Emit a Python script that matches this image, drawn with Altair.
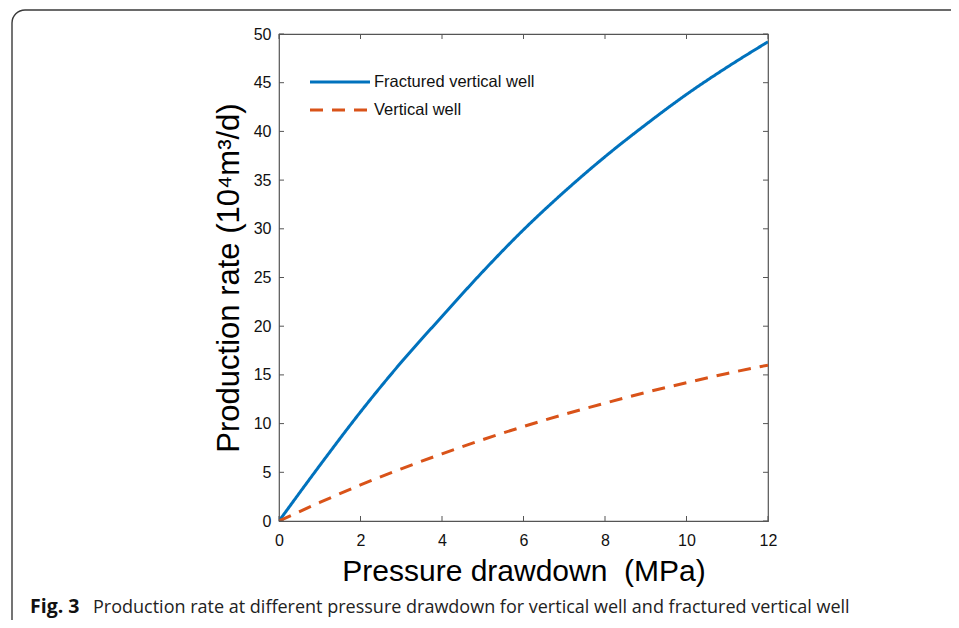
import altair as alt
import pandas as pd

# ---- data ----
pressure = [0, 1, 2, 3, 4, 5, 6, 7, 8, 9, 10, 11, 12]
fractured_rate = [0, 5.7, 11.2, 16.3, 21.0, 25.6, 29.9, 33.8, 37.4, 40.7, 43.8, 46.6, 49.2]
vertical_rate = [0, 1.9, 3.7, 5.35, 6.9, 8.35, 9.7, 10.95, 12.1, 13.2, 14.2, 15.15, 16.0]
series_names = ["Fractured vertical well", "Vertical well"]
series_colors = ["#0072BD", "#D95319"]
x_ticks = [0, 2, 4, 6, 8, 10, 12]
y_ticks = [0, 5, 10, 15, 20, 25, 30, 35, 40, 45, 50]
x_title = "Pressure drawdown \u00a0(MPa)"
y_title = "Production rate (10\u2074m\u00b3/d)"
caption_bold = "Fig. 3"
caption_text = "Production rate at different pressure drawdown for vertical well and fractured vertical well"

W, H = 489, 487
FONT = "Liberation Sans"

rows = []
for p, a in zip(pressure, fractured_rate):
    rows.append({"pressure": p, "rate": a, "series": series_names[0]})
for p, b in zip(pressure, vertical_rate):
    rows.append({"pressure": p, "rate": b, "series": series_names[1]})
df = pd.DataFrame(rows)

xscale = alt.Scale(domain=[0, 12], nice=False, zero=False)
yscale = alt.Scale(domain=[0, 50], nice=False, zero=False)

frame = alt.Chart(pd.DataFrame({"k": [0]})).mark_rect(
    filled=False, stroke="#3a3a3a", strokeWidth=1.4, cornerRadius=13
).encode(
    x=alt.value(12 - 279), x2=alt.value(W + 300),
    y=alt.value(10 - 34), y2=alt.value(H + 200),
)

lines = alt.Chart(df).mark_line(strokeWidth=3, interpolate="monotone", clip=True).encode(
    x=alt.X("pressure:Q", scale=xscale,
            axis=alt.Axis(values=x_ticks, title=x_title, labelPadding=11, titlePadding=8,
                          titleFontSize=30, labelFlush=False, labelOverlap=False)),
    y=alt.Y("rate:Q", scale=yscale,
            axis=alt.Axis(values=y_ticks, title=y_title, labelPadding=8, titlePadding=8,
                          titleFontSize=31, labelFlush=False, labelOverlap=False)),
    color=alt.Color("series:N", scale=alt.Scale(domain=series_names, range=series_colors), legend=None),
    strokeDash=alt.StrokeDash("series:N", scale=alt.Scale(domain=series_names, range=[[1, 0], [13, 9]]), legend=None),
)

xt = pd.DataFrame({"pressure": x_ticks})
yt = pd.DataFrame({"rate": y_ticks})
tick_style = dict(color="#555555", strokeWidth=1)
xticks_bottom = alt.Chart(xt).mark_rule(**tick_style).encode(
    x=alt.X("pressure:Q", scale=xscale), y=alt.value(H), y2=alt.value(H - 5))
xticks_top = alt.Chart(xt).mark_rule(**tick_style).encode(
    x=alt.X("pressure:Q", scale=xscale), y=alt.value(0), y2=alt.value(5))
yticks_left = alt.Chart(yt).mark_rule(**tick_style).encode(
    y=alt.Y("rate:Q", scale=yscale), x=alt.value(0), x2=alt.value(5))
yticks_right = alt.Chart(yt).mark_rule(**tick_style).encode(
    y=alt.Y("rate:Q", scale=yscale), x=alt.value(W), x2=alt.value(W - 5))

# legend (drawn inside the plot, top-left, like MATLAB)
leg = []
for i, (name, col) in enumerate(zip(series_names, series_colors)):
    d = pd.DataFrame({"series": [name]})
    yy = 48 + 28 * i
    rule = alt.Chart(d).mark_rule(color=col, strokeWidth=3,
                                  strokeDash=([13, 9] if i == 1 else [1, 0])).encode(
        x=alt.value(31), x2=alt.value(91), y=alt.value(yy))
    txt = alt.Chart(d).mark_text(align="left", baseline="middle", font=FONT, fontSize=16.5,
                                 color="#111111").encode(
        text="series:N", x=alt.value(95), y=alt.value(yy))
    leg += [rule, txt]

cap1 = alt.Chart(pd.DataFrame({"t": [caption_bold]})).mark_text(
    align="left", baseline="alphabetic", font="Open Sans", fontSize=19.5, fontWeight="bold",
    color="#111111").encode(text="t:N", x=alt.value(30 - 279), y=alt.value(613 - 34))
cap2 = alt.Chart(pd.DataFrame({"t": [caption_text]})).mark_text(
    align="left", baseline="alphabetic", font="Open Sans", fontSize=18,
    color="#222222").encode(text="t:N", x=alt.value(93 - 279), y=alt.value(613 - 34))

chart = alt.layer(
    frame, lines, xticks_bottom, xticks_top, yticks_left, yticks_right, *leg, cap1, cap2
).properties(
    width=W, height=H, background="white",
    autosize=alt.AutoSizeParams(type="none"),
    padding={"left": 271, "top": 26, "right": 183, "bottom": 99},
).configure_view(
    stroke="#555555", strokeWidth=1.2
).configure_axis(
    domain=False, ticks=False, tickSize=0, grid=False,
    labelFont=FONT, labelFontSize=16, labelColor="#111111",
    titleFont=FONT, titleFontSize=28, titleFontWeight="normal", titleColor="#000000",
)

chart.save("out.html", embed_options={"renderer": "svg", "actions": False})
